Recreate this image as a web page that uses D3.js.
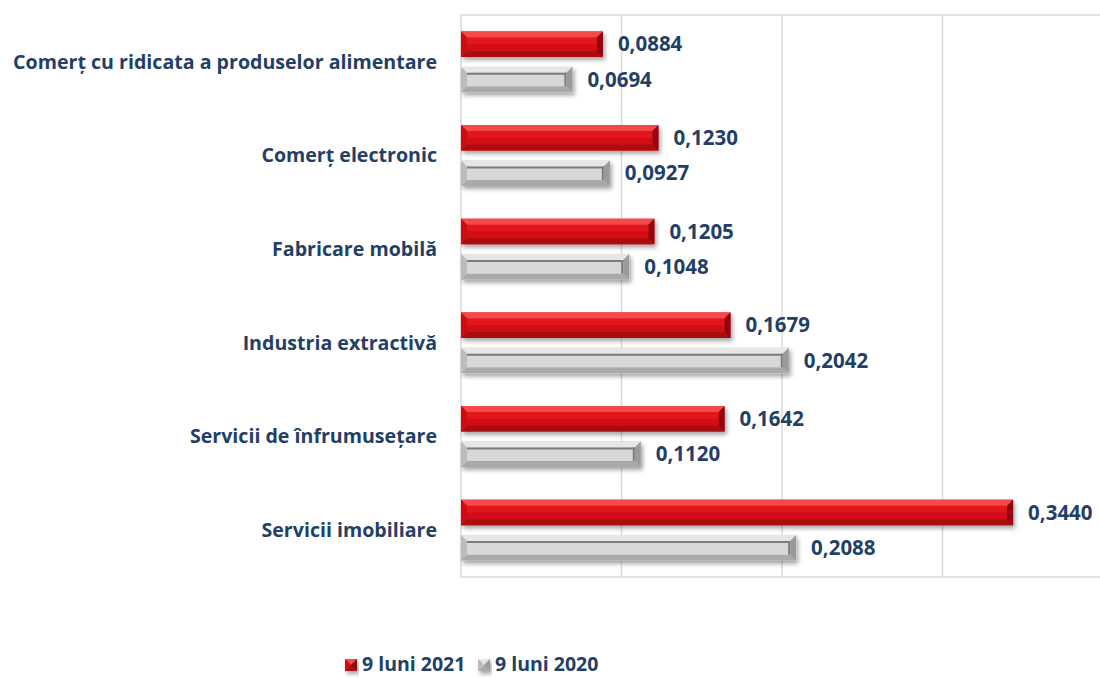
<!DOCTYPE html>
<html>
<head>
<meta charset="utf-8">
<script src="https://cdn.jsdelivr.net/npm/d3@7"></script>
<style>
  body { margin: 0; background: #fff; }
  svg { display: block; font-family: "Open Sans", Lato, sans-serif; }
</style>
</head>
<body>
<div id="chart"></div>
<script>
// Data
const categories = [
  "Comerț cu ridicata a produselor alimentare",
  "Comerț electronic",
  "Fabricare mobilă",
  "Industria extractivă",
  "Servicii de înfrumusețare",
  "Servicii imobiliare"
];
const values2021 = [0.0884, 0.1230, 0.1205, 0.1679, 0.1642, 0.3440];
const values2020 = [0.0694, 0.0927, 0.1048, 0.2042, 0.1120, 0.2088];
const seriesNames = ["9 luni 2021", "9 luni 2020"];
const xTicks = [0, 0.1, 0.2, 0.3, 0.4];

const W = 1100, H = 678;
const textColor = "#243f66";

const svg = d3.select("#chart").append("svg")
  .attr("width", W)
  .attr("height", H);

const defs = svg.append("defs");
defs.append("filter")
  .attr("id", "shadow")
  .attr("x", "-5%").attr("y", "-30%").attr("width", "115%").attr("height", "180%")
  .append("feDropShadow")
    .attr("dx", 2).attr("dy", 3).attr("stdDeviation", 2)
    .attr("flood-color", "#000").attr("flood-opacity", 0.35);

// Scales
const x = d3.scaleLinear().domain([0, 0.4]).range([461, 1103]);
const y = d3.scaleBand().domain(categories).range([15, 577])
  .paddingInner(0.35).paddingOuter(0.175);
const ySub = d3.scaleBand().domain(seriesNames).range([0, y.bandwidth()]).paddingInner(0.28);

// Grid / frame
const grid = svg.append("g");
grid.selectAll("line.v")
  .data(xTicks)
  .join("line")
    .attr("x1", d => x(d)).attr("x2", d => x(d))
    .attr("y1", 15).attr("y2", 577)
    .attr("stroke", "#d9d9d9").attr("stroke-width", 1.5);
grid.selectAll("line.h")
  .data([15, 577])
  .join("line")
    .attr("x1", x(0)).attr("x2", W)
    .attr("y1", d => d).attr("y2", d => d)
    .attr("stroke", "#d9d9d9").attr("stroke-width", 1.5);

// Beveled bar drawing
const styles = {
  "9 luni 2021": { face: "#e3141e", top: "#f4484c", bottom: "#a9070c", left: "#c80e15", right: "#98050a", line: null },
  "9 luni 2020": { face: "#d2d2d2", top: "#e6e6e6", bottom: "#a9a9a9", left: "#bcbcbc", right: "#9a9a9a", line: "#7c7c7c" }
};
const bev = 6;

function drawBar(g, x0, y0, w, h, st) {
  const x1 = x0 + w, y1 = y0 + h;
  const b = Math.min(bev, w / 2, h / 2);
  const bar = g.append("g").attr("filter", "url(#shadow)");
  bar.append("rect").attr("x", x0).attr("y", y0).attr("width", w).attr("height", h).attr("fill", st.face);
  bar.append("path").attr("d", `M${x0},${y0}L${x1},${y0}L${x1 - b},${y0 + b}L${x0 + b},${y0 + b}Z`).attr("fill", st.top);
  bar.append("path").attr("d", `M${x0},${y1}L${x1},${y1}L${x1 - b},${y1 - b}L${x0 + b},${y1 - b}Z`).attr("fill", st.bottom);
  bar.append("path").attr("d", `M${x0},${y0}L${x0 + b},${y0 + b}L${x0 + b},${y1 - b}L${x0},${y1}Z`).attr("fill", st.left);
  bar.append("path").attr("d", `M${x1},${y0}L${x1 - b},${y0 + b}L${x1 - b},${y1 - b}L${x1},${y1}Z`).attr("fill", st.right);
  if (st.line) {
    bar.append("rect")
      .attr("x", x0 + b).attr("y", y0 + b)
      .attr("width", Math.max(0, w - 2 * b)).attr("height", h - 2 * b)
      .attr("fill", "#d8d8d8");
    bar.append("line")
      .attr("x1", x0 + b).attr("x2", x1 - b)
      .attr("y1", y0 + b + 1).attr("y2", y0 + b + 1)
      .attr("stroke", st.line).attr("stroke-width", 2);
    bar.append("line")
      .attr("x1", x1 - b - 1).attr("x2", x1 - b - 1)
      .attr("y1", y0 + b).attr("y2", y1 - b)
      .attr("stroke", st.line).attr("stroke-width", 2);
  } else {
    bar.append("rect")
      .attr("x", x0 + b).attr("y", y0 + b + (h - 2 * b) / 2)
      .attr("width", Math.max(0, w - 2 * b)).attr("height", (h - 2 * b) / 2)
      .attr("fill", "#c60d14").attr("opacity", 0.6);
  }
}

const rows = categories.map((c, i) => ({
  cat: c,
  vals: [
    { s: seriesNames[0], v: values2021[i] },
    { s: seriesNames[1], v: values2020[i] }
  ]
}));

const fmt = v => d3.format(".4f")(v).replace(".", ",");

const rowG = svg.append("g").selectAll("g")
  .data(rows)
  .join("g")
    .attr("transform", d => `translate(0,${y(d.cat)})`);

rowG.each(function(d) {
  const g = d3.select(this);
  d.vals.forEach(p => {
    const by = ySub(p.s), bh = ySub.bandwidth();
    drawBar(g, x(0), by, x(p.v) - x(0), bh, styles[p.s]);
    g.append("text")
      .attr("x", x(p.v) + 15)
      .attr("y", by + bh / 2)
      .attr("dy", "0.35em")
      .attr("fill", textColor)
      .attr("font-size", 20.5)
      .attr("font-weight", "bold")
      .text(fmt(p.v));
  });
});

// Category labels
svg.append("g").selectAll("text")
  .data(categories)
  .join("text")
    .attr("x", 437)
    .attr("y", d => y(d) + y.bandwidth() / 2)
    .attr("dy", "0.35em")
    .attr("text-anchor", "end")
    .attr("fill", textColor)
    .attr("font-size", 19.6)
    .attr("font-weight", "bold")
    .text(d => d);

// Legend
const legend = svg.append("g").attr("transform", "translate(345,664)");
const legendX = [0, 133];
seriesNames.forEach((s, i) => {
  const lg = legend.append("g").attr("transform", `translate(${legendX[i]},0)`);
  drawBar(lg, 0, -5, 12, 12, Object.assign({}, styles[s], { line: null }));
  lg.append("text")
    .attr("x", 17).attr("y", 0).attr("dy", "0.35em")
    .attr("fill", textColor)
    .attr("font-size", 19.5)
    .attr("font-weight", "bold")
    .text(s);
});
</script>
</body>
</html>
